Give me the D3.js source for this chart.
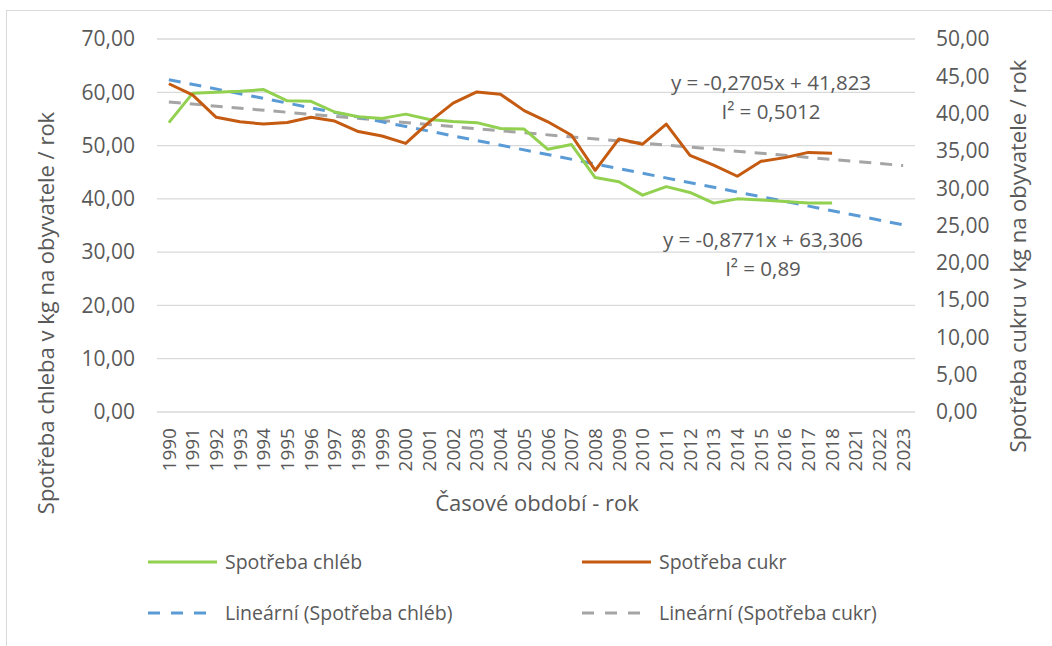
<!DOCTYPE html>
<html>
<head>
<meta charset="utf-8">
<script src="https://cdn.jsdelivr.net/npm/d3@7"></script>
<style>
  body { margin: 0; background: #fff; }
  svg { display: block; font-family: "Open Sans", sans-serif; }
</style>
</head>
<body>
<div id="chart"></div>
<script>
// Kategorie osy X (2019 a 2020 v grafu chybí)
const years = ["1990","1991","1992","1993","1994","1995","1996","1997","1998","1999",
  "2000","2001","2002","2003","2004","2005","2006","2007","2008","2009",
  "2010","2011","2012","2013","2014","2015","2016","2017","2018","2021","2022","2023"];

// Spotřeba chleba (levá osa), 1990-2018
const chleb = [54.3, 59.8, 60.0, 60.2, 60.5, 58.4, 58.3, 56.3, 55.4, 55.1,
  55.9, 54.9, 54.5, 54.3, 53.2, 53.1, 49.3, 50.2, 44.0, 43.2,
  40.7, 42.3, 41.2, 39.2, 40.0, 39.8, 39.5, 39.2, 39.2];

// Spotřeba cukru (pravá osa), 1990-2018
const cukr = [44.0, 42.5, 39.5, 38.9, 38.6, 38.8, 39.5, 39.0, 37.6, 37.0,
  36.0, 38.9, 41.4, 42.9, 42.6, 40.4, 38.9, 37.1, 32.4, 36.6,
  35.9, 38.6, 34.4, 33.1, 31.6, 33.6, 34.1, 34.8, 34.7];

const leftTicks = [0, 10, 20, 30, 40, 50, 60, 70];
const rightTicks = [0, 5, 10, 15, 20, 25, 30, 35, 40, 45, 50];

const trendLabels = {
  chleb: ["y = -0,8771x + 63,306", "I² = 0,89"],
  cukr: ["y = -0,2705x + 41,823", "I² = 0,5012"]
};

const W = 1052, H = 646;
const M = { left: 157, right: 915, top: 39, bottom: 412 };
const textColor = "#595959";
const fmt = v => v.toFixed(2).replace(".", ",");

const svg = d3.select("#chart").append("svg")
  .attr("width", W).attr("height", H);

// rámeček grafu
svg.append("rect")
  .attr("x", 6.5).attr("y", 10.5)
  .attr("width", 1100).attr("height", 700)
  .attr("fill", "none").attr("stroke", "#d9d9d9");

const x = d3.scalePoint().domain(years).range([M.left, M.right]).padding(0.5);
const yL = d3.scaleLinear().domain([0, 70]).range([M.bottom, M.top]);
const yR = d3.scaleLinear().domain([0, 50]).range([M.bottom, M.top]);

// mřížka
svg.append("g").selectAll("line")
  .data(leftTicks).join("line")
  .attr("x1", M.left).attr("x2", M.right)
  .attr("y1", d => yL(d)).attr("y2", d => yL(d))
  .attr("stroke", "#d9d9d9").attr("stroke-width", 1.3);

// levá osa
svg.append("g").selectAll("text")
  .data(leftTicks).join("text")
  .attr("x", 135).attr("y", d => yL(d))
  .attr("dy", "0.35em")
  .attr("text-anchor", "end")
  .attr("font-size", 21)
  .attr("fill", textColor)
  .text(fmt);

// pravá osa
svg.append("g").selectAll("text")
  .data(rightTicks).join("text")
  .attr("x", 936).attr("y", d => yR(d))
  .attr("dy", "0.35em")
  .attr("text-anchor", "start")
  .attr("font-size", 21)
  .attr("fill", textColor)
  .text(fmt);

// osa X - popisky otočené
svg.append("g").selectAll("text")
  .data(years).join("text")
  .attr("transform", d => `translate(${x(d)},428) rotate(-90)`)
  .attr("dy", "0.35em")
  .attr("text-anchor", "end")
  .attr("font-size", 19)
  .attr("fill", textColor)
  .text(d => d);

// názvy os
svg.append("text")
  .attr("transform", "translate(46,313) rotate(-90)")
  .attr("dy", "0.35em")
  .attr("text-anchor", "middle")
  .attr("font-size", 22)
  .attr("fill", textColor)
  .text("Spotřeba chleba v kg na obyvatele / rok");

svg.append("text")
  .attr("transform", "translate(1018,256) rotate(-90)")
  .attr("dy", "0.35em")
  .attr("text-anchor", "middle")
  .attr("font-size", 22)
  .attr("fill", textColor)
  .text("Spotřeba cukru v kg na obyvatele / rok");

svg.append("text")
  .attr("x", 537).attr("y", 511)
  .attr("text-anchor", "middle")
  .attr("font-size", 22)
  .attr("fill", textColor)
  .text("Časové období - rok");

// lineární regrese (x = 1..n), prodloužená do konce osy
function linreg(vals) {
  const xs = vals.map((_, i) => i + 1);
  const mx = d3.mean(xs), my = d3.mean(vals);
  const b = d3.sum(xs, (xi, i) => (xi - mx) * (vals[i] - my)) / d3.sum(xs, xi => (xi - mx) ** 2);
  return { a: my - b * mx, b };
}

const series = [
  { key: "cukr", vals: cukr, y: yR, color: "#c55a11", trend: "#a5a5a5" },
  { key: "chleb", vals: chleb, y: yL, color: "#92d050", trend: "#5b9bd5" }
];

// trendy
series.forEach(s => {
  const r = linreg(s.vals);
  const pts = [1, years.length];
  svg.append("line")
    .attr("x1", x(years[0])).attr("x2", x(years[years.length - 1]))
    .attr("y1", s.y(r.a + r.b * pts[0]))
    .attr("y2", s.y(r.a + r.b * pts[1]))
    .attr("stroke", s.trend).attr("stroke-width", 3)
    .attr("stroke-dasharray", "12,9");
});

// datové řady
const order = [series[1], series[0]];
order.forEach(s => {
  const line = d3.line()
    .x((d, i) => x(years[i]))
    .y(d => s.y(d));
  svg.append("path")
    .datum(s.vals)
    .attr("d", line)
    .attr("fill", "none")
    .attr("stroke", s.color)
    .attr("stroke-width", 3)
    .attr("stroke-linejoin", "round");
});

// rovnice trendů
const eq = [
  { lines: trendLabels.cukr, cx: 771, y0: 90 },
  { lines: trendLabels.chleb, cx: 763, y0: 247 }
];
eq.forEach(e => {
  e.lines.forEach((t, i) => {
    svg.append("text")
      .attr("x", e.cx).attr("y", e.y0 + i * 29)
      .attr("text-anchor", "middle")
      .attr("font-size", 20.5)
      .attr("fill", textColor)
      .text(t);
  });
});

// legenda
const legend = [
  { label: "Spotřeba chléb", color: "#92d050", dash: null, lx: 148, ly: 562 },
  { label: "Spotřeba cukr", color: "#c55a11", dash: null, lx: 582, ly: 562 },
  { label: "Lineární (Spotřeba chléb)", color: "#5b9bd5", dash: "12,11", lx: 148, ly: 613 },
  { label: "Lineární (Spotřeba cukr)", color: "#a5a5a5", dash: "12,11", lx: 582, ly: 613 }
];
const lg = svg.append("g").selectAll("g").data(legend).join("g");
lg.append("line")
  .attr("x1", d => d.lx).attr("x2", d => d.lx + 69)
  .attr("y1", d => d.ly).attr("y2", d => d.ly)
  .attr("stroke", d => d.color).attr("stroke-width", 3)
  .attr("stroke-dasharray", d => d.dash);
lg.append("text")
  .attr("x", d => d.lx + 77).attr("y", d => d.ly)
  .attr("dy", "0.35em")
  .attr("font-size", 19.5)
  .attr("fill", textColor)
  .text(d => d.label);
</script>
</body>
</html>
